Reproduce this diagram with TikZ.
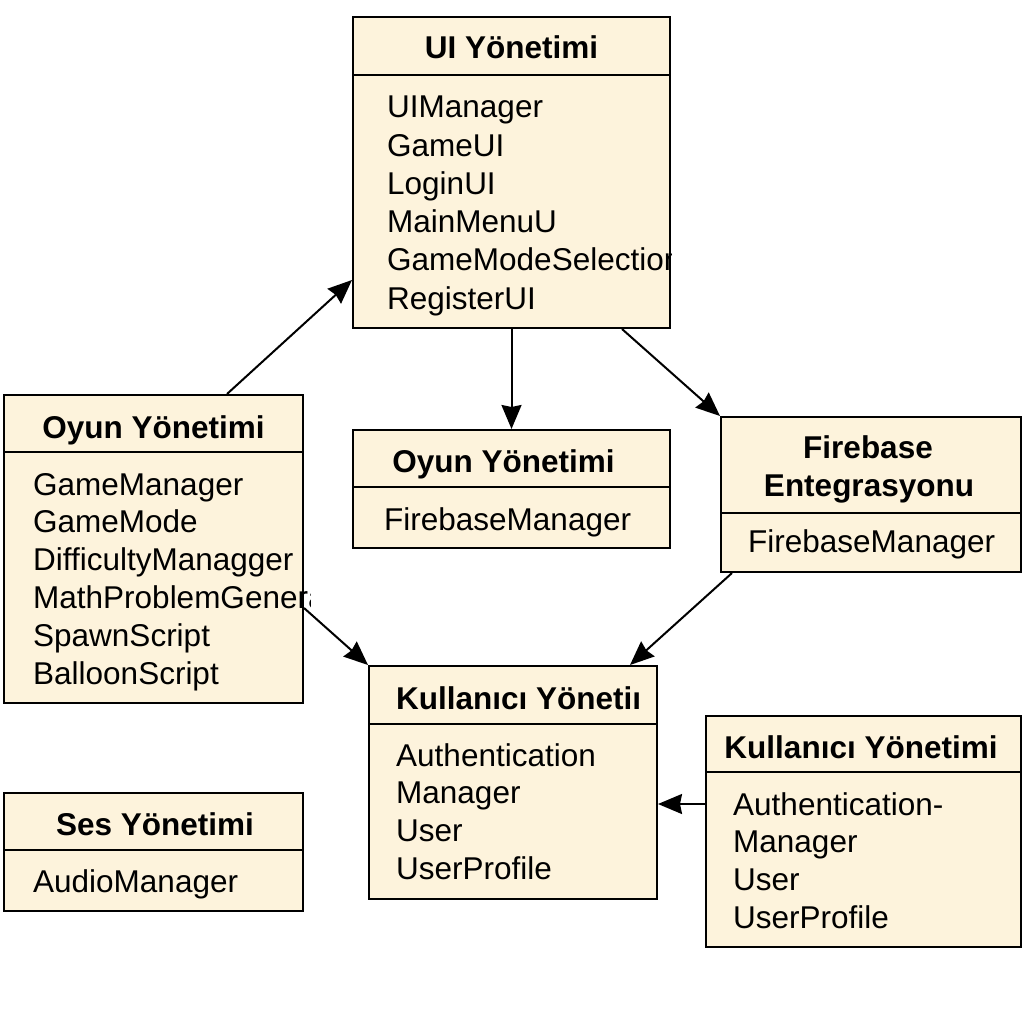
\documentclass[tikz,border=0pt]{standalone}
\usepackage{fontspec}
\setmainfont{Liberation Sans}
\usetikzlibrary{arrows.meta,calc}
\definecolor{pkgfill}{RGB}{253,243,220}
\begin{document}
\begin{tikzpicture}[x=1pt,y=-1pt,
    pkg/.style={draw, line width=2pt, fill=pkgfill, inner sep=0pt},
    ttl/.style={font=\bfseries\fontsize{31.5}{38}\selectfont, inner sep=0pt, anchor=base},
    itm/.style={font=\fontsize{31.5}{38}\selectfont, inner sep=0pt, anchor=base west},
    dep/.style={-{Stealth[length=24pt,width=20pt,inset=2pt]}, line width=2pt}]
    \useasboundingbox[fill=white] (0,0) rectangle (1024,1024);

    % UI Yonetimi
    \node[pkg, minimum width=317pt, minimum height=311pt] (ui) at (511.5,172.5) {};
    \draw[line width=2pt] ([yshift=-59pt]ui.north west) -- ([yshift=-59pt]ui.north east);
    \node[ttl] (ui-t) at (511.5,59) {UI Yönetimi};
    \begin{scope}
        \clip (ui.south west) rectangle (ui.north east);
        \foreach \t [count=\i] in {UIManager, GameUI, LoginUI, MainMenuU, GameModeSelection, RegisterUI}
            \node[itm] (ui-\i) at (387,{118+38.2*(\i-1)}) {\t};
    \end{scope}

    % Oyun Yonetimi (left)
    \node[pkg, minimum width=299pt, minimum height=308pt] (oyunL) at (153.5,549) {};
    \draw[line width=2pt] ([yshift=-58pt]oyunL.north west) -- ([yshift=-58pt]oyunL.north east);
    \node[ttl] (oyunL-t) at (153.5,438) {Oyun Yönetimi};
    \begin{scope}
        \clip ([xshift=6pt]oyunL.south west) rectangle ([xshift=6pt]oyunL.north east);
        \foreach \t [count=\i] in {GameManager, GameMode, DifficultyManagger, MathProblemGenera, SpawnScript, BalloonScript}
            \node[itm] (oyunL-\i) at (33,{495+37.8*(\i-1)}) {\t};
    \end{scope}

    % Oyun Yonetimi (middle)
    \node[pkg, minimum width=317pt, minimum height=118pt] (oyunM) at (511.5,489) {};
    \draw[line width=2pt] ([yshift=-58pt]oyunM.north west) -- ([yshift=-58pt]oyunM.north east);
    \node[ttl] (oyunM-t) at (503.5,472) {Oyun Yönetimi};
    \node[itm] (oyunM-1) at (384,530) {FirebaseManager};

    % Firebase Entegrasyonu
    \node[pkg, minimum width=300pt, minimum height=155pt] (fire) at (871,494.5) {};
    \draw[line width=2pt] ([yshift=-97pt]fire.north west) -- ([yshift=-97pt]fire.north east);
    \node[ttl] (fire-t1) at (868,458) {Firebase};
    \node[ttl] (fire-t2) at (869,496) {Entegrasyonu};
    \node[itm] (fire-1) at (748,552) {FirebaseManager};

    % Kullanici Yonetimi (middle)
    \node[pkg, minimum width=288pt, minimum height=233pt] (kulC) at (513,782.5) {};
    \draw[line width=2pt] ([yshift=-59pt]kulC.north west) -- ([yshift=-59pt]kulC.north east);
    \node[ttl, anchor=base west] (kulC-t) at (396,709) {Kullanıcı Yönetiı};
    \foreach \t [count=\i] in {Authentication, Manager, User, UserProfile}
        \node[itm] (kulC-\i) at (396,{766+37.7*(\i-1)}) {\t};

    % Kullanici Yonetimi (right)
    \node[pkg, minimum width=315pt, minimum height=231pt] (kulR) at (863.5,831.5) {};
    \draw[line width=2pt] ([yshift=-57pt]kulR.north west) -- ([yshift=-57pt]kulR.north east);
    \node[ttl] (kulR-t) at (861,758) {Kullanıcı Yönetimi};
    \foreach \t [count=\i] in {Authentication-, Manager, User, UserProfile}
        \node[itm] (kulR-\i) at (733,{815+37.7*(\i-1)}) {\t};

    % Ses Yonetimi
    \node[pkg, minimum width=299pt, minimum height=118pt] (ses) at (153.5,852) {};
    \draw[line width=2pt] ([yshift=-58pt]ses.north west) -- ([yshift=-58pt]ses.north east);
    \node[ttl] (ses-t) at (155,835) {Ses Yönetimi};
    \node[itm] (ses-1) at (33,892) {AudioManager};

    % Connections
    \draw[dep] ([xshift=73.5pt]oyunL.north) -- ([yshift=-107.5pt]ui.west);
    \draw[dep] (ui.south) -- (oyunM.north);
    \draw[dep] ([xshift=110.5pt]ui.south) -- (fire.north west);
    \draw[dep] ([yshift=-59pt]oyunL.east) -- (kulC.north west);
    \draw[dep] ([xshift=-139pt]fire.south) -- ([xshift=117pt]kulC.north);
    \coordinate (kr) at ([yshift=27.5pt]kulR.west);
    \draw[dep] (kr) -- (kr -| kulC.east);
\end{tikzpicture}
\end{document}
